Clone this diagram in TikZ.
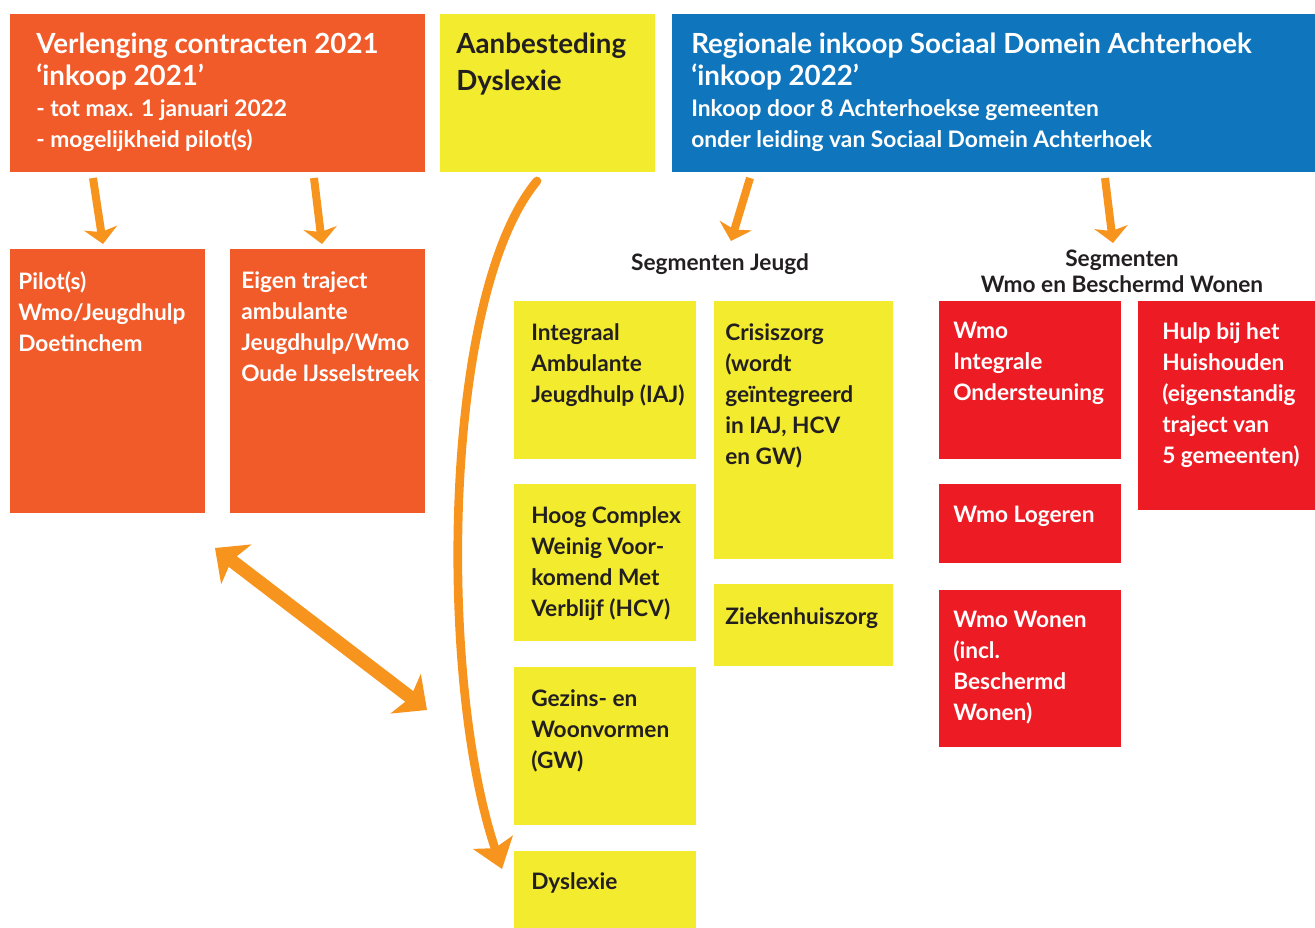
\documentclass[tikz,border=0pt]{standalone}
\usepackage{fontspec}
\setmainfont{Lato}
\usetikzlibrary{arrows.meta}
\definecolor{cOr}{HTML}{F15A29}
\definecolor{cYe}{HTML}{F3EB2E}
\definecolor{cBl}{HTML}{0F75BC}
\definecolor{cRe}{HTML}{ED1C24}
\definecolor{cAr}{HTML}{F7941D}
\definecolor{cTx}{HTML}{231F20}
\newcommand\mybox[6]{%
  \node[fill=#6, inner sep=0pt, outer sep=0pt, anchor=north west,
        minimum width={(#4-#2)*0.75pt}, minimum height={(#5-#3)*0.75pt}] (#1) at (#2,#3) {};}
\newcommand\subfont{\fontsize{17.1}{23.25}\selectfont}
\tikzset{
  ttl/.style={font=\fontsize{20.8}{23.5}\selectfont\bfseries, align=left, inner sep=0pt, anchor=north west},
  bxt/.style={font=\fontsize{17}{23.25}\selectfont\bfseries, align=left, inner sep=0pt, anchor=north west},
  seg/.style={font=\fontsize{17}{19.5}\selectfont\bfseries, align=center, inner sep=0pt, text=cTx},
  smallarrow/.style={draw=cAr, line width=6pt, -{Stealth[length=12pt, width=25pt, inset=3pt]}},
  curvearrow/.style={draw=cAr, line width=6.5pt, line cap=round, -{Stealth[length=21pt, width=31pt, inset=4.5pt]}},
  dblarrow/.style={draw=cAr, line width=10pt, {Stealth[length=20pt, width=37pt, inset=4.5pt]}-{Stealth[length=20pt, width=37pt, inset=4.5pt]}}
}
\begin{document}
\begin{tikzpicture}[x=0.75pt,y=-0.75pt]
\useasboundingbox (0,0) rectangle (1315,928);
% top boxes
\mybox{verl}{10}{14}{425}{172}{cOr}
\mybox{aanb}{440}{14}{655}{172}{cYe}
\mybox{regi}{672}{14}{1315}{172}{cBl}
% second row
\mybox{pilot}{10}{249}{205}{513}{cOr}
\mybox{eigen}{230}{249}{425}{513}{cOr}
% jeugd
\mybox{iaj}{514}{301}{696}{459}{cYe}
\mybox{hcv}{514}{484}{696}{641}{cYe}
\mybox{gw}{514}{667}{696}{825}{cYe}
\mybox{dys}{514}{851}{696}{928}{cYe}
\mybox{cris}{714}{301}{893}{559}{cYe}
\mybox{zkh}{714}{584}{893}{666}{cYe}
% wmo
\mybox{wint}{939}{301}{1121}{459}{cRe}
\mybox{wlog}{939}{484}{1121}{563}{cRe}
\mybox{wwon}{939}{590}{1121}{747}{cRe}
\mybox{hbh}{1138}{301}{1315}{510}{cRe}

% texts
\node[ttl, text=white] (t-verl) at (36,33) {Verlenging contracten 2021\\‘inkoop 2021’\\{\subfont - tot max. 1 januari 2022}\\{\subfont - mogelijkheid pilot(s)}};
\node[ttl, text=cTx, font=\fontsize{20.8}{27.75}\selectfont\bfseries] (t-aanb) at (456,33) {Aanbesteding\\Dyslexie};
\node[ttl, text=white] (t-regi) at (691,33) {Regionale inkoop Sociaal Domein Achterhoek\\‘inkoop 2022’\\{\subfont Inkoop door 8 Achterhoekse gemeenten}\\{\subfont onder leiding van Sociaal Domein Achterhoek}};

\node[bxt, text=white] (t-pilot) at (18,271) {Pilot(s)\\Wmo/Jeugdhulp\\Doetinchem};
\node[bxt, text=white] (t-eigen) at (241,271) {Eigen traject\\ambulante\\Jeugdhulp/Wmo\\Oude IJsselstreek};
\node[bxt, text=cTx] (t-iaj) at (531,323) {Integraal\\Ambulante\\Jeugdhulp (IAJ)};
\node[bxt, text=cTx] (t-hcv) at (531,506) {Hoog Complex\\Weinig Voor-\\komend Met\\Verblijf (HCV)};
\node[bxt, text=cTx] (t-gw) at (531,689) {Gezins- en\\Woonvormen\\(GW)};
\node[bxt, text=cTx] (t-dys) at (531,872) {Dyslexie};
\node[bxt, text=cTx] (t-cris) at (725,323) {Crisiszorg\\(wordt\\geïntegreerd\\in IAJ, HCV\\en GW)};
\node[bxt, text=cTx] (t-zkh) at (725,607) {Ziekenhuiszorg};
\node[bxt, text=white] (t-wint) at (953,322) {Wmo\\Integrale\\Ondersteuning};
\node[bxt, text=white] (t-wlog) at (953,506) {Wmo Logeren};
\node[bxt, text=white] (t-wwon) at (953,611) {Wmo Wonen\\(incl.\\Beschermd\\Wonen)};
\node[bxt, text=white] (t-hbh) at (1162,322) {Hulp bij het\\Huishouden\\(eigenstandig\\traject van\\5 gemeenten)};

\node[seg] (segj) at (720,264) {Segmenten Jeugd};
\node[seg] (segw) at (1122,271) {Segmenten\\Wmo en Beschermd Wonen};

% arrows
\coordinate (a1s) at (93,178);   \coordinate (a1e) at (103,244);
\coordinate (a2s) at (314,178);  \coordinate (a2e) at (322,244);
\coordinate (a3s) at (750,178);  \coordinate (a3e) at (731,241);
\coordinate (a4s) at (1105,178); \coordinate (a4e) at (1113,243);
\draw[smallarrow] (a1s) -- (a1e);
\draw[smallarrow] (a2s) -- (a2e);
\draw[smallarrow] (a3s) -- (a3e);
\draw[smallarrow] (a4s) -- (a4e);

\coordinate (ds) at (215,548); \coordinate (de) at (427,710);
\draw[dblarrow] (ds) -- (de);

\coordinate (cs) at (537,181);
\coordinate (ce) at (502,869);
\draw[curvearrow] (cs) .. controls (442,295) and (438,680) .. (ce);
\end{tikzpicture}
\end{document}
